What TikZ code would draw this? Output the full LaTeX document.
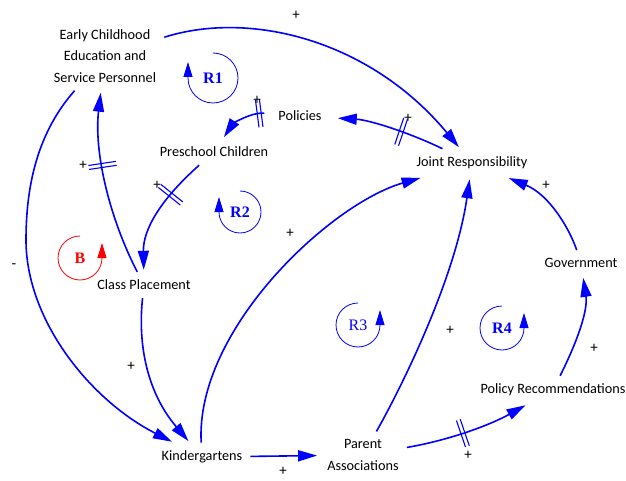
\documentclass[tikz,border=0pt]{standalone}
\usepackage{fontspec}
\setmainfont{Carlito}
\newfontfamily\loopfont{Liberation Serif}
\usetikzlibrary{arrows.meta,decorations.markings}
\begin{document}
\begin{tikzpicture}[x=1pt,y=1pt,
  var/.style={inner sep=8pt,align=center,font=\fontsize{14.25}{21.5}\selectfont},
  causal/.style={blue,line width=1.6pt,-{Triangle[length=19pt,width=11pt]},shorten >=2pt},
  delaymark/.style={postaction={decorate,decoration={markings,mark=at position #1 with {\draw[blue,line width=1.1pt,-,shorten >=0pt] (-2pt,-14pt) -- (-2pt,14pt) (2pt,-14pt) -- (2pt,14pt);}}}},
  loopmark/.style={#1,line width=0.8pt,-{Triangle[length=15pt,width=9pt]}},
  looplabel/.style={#1,font=\loopfont\fontsize{16}{16}\selectfont},
  sign/.style={font=\fontsize{15}{15}\selectfont}]
\useasboundingbox (0,0) rectangle (626,480);
\node [var] (ece) at (105,424) {Early Childhood\\Education and\\Service Personnel};
\node [var,inner xsep=14pt] (pol) at (300,364) {Policies};
\node [var] (psc) at (214,328) {Preschool Children};
\node [var] (jr) at (472,317) {Joint Responsibility};
\node [var] (cp) at (144,195) {Class Placement};
\node [var] (gov) at (581,217) {Government};
\node [var] (pr) at (553,90) {Policy Recommendations};
\node [var] (kg) at (202,23) {Kindergartens};
\node [var] (pa) at (363,25) {Parent\\Associations};
\draw [causal] (ece) .. controls (250,470) and (370,440) .. (jr);
\draw [causal] (ece) .. controls (40,350) and (26,300) .. (26,240) .. controls (26,160) and (90,80) .. (kg);
\draw [causal,delaymark=0.6] (cp) .. controls (108,265) and (94,330) .. (ece);
\draw [causal,delaymark=0.33] (psc) .. controls (160,280) and (143,250) .. (cp);
\draw [causal,delaymark=0.1] (pol) .. controls (250,368) and (232,355) .. (psc);
\draw [causal,delaymark=0.4] (jr) .. controls (410,347) and (370,360) .. (pol);
\draw [causal] (cp) .. controls (138,140) and (145,90) .. (kg);
\draw [causal] (kg) .. controls (195,150) and (330,276) .. (jr);
\draw [causal] (kg) -- (pa);
\draw [causal] (pa) .. controls (400,90) and (455,200) .. (jr);
\draw [causal,delaymark=0.45] (pa) .. controls (450,40) and (490,55) .. (pr);
\draw [causal] (pr) .. controls (578,140) and (588,170) .. (gov);
\draw [causal] (gov) .. controls (570,250) and (550,285) .. (jr);
\foreach \x/\y/\s [count=\i] in {296/465/+,14/214/-,83/315/+,157/295/+,257/380/+,408/362/+,131/114/+,290/247/+,283/9/+,450/150/+,468/25/+,594/132/+,546/295/+}
  \node [sign] (sign\i) at (\x,\y) {\s};
\draw [loopmark=blue] (213,427) arc[start angle=90,end angle=-180,radius=25pt] -- ++(0,16);
\node [looplabel=blue] (r1) at (213,402) {\textbf{R1}};
\draw [loopmark=blue] (240,289) arc[start angle=90,end angle=-180,radius=21pt] -- ++(0,15);
\node [looplabel=blue] (r2) at (240,268) {\textbf{R2}};
\draw [loopmark=red] (80,244) arc[start angle=90,end angle=360,radius=22pt] -- ++(0,15);
\node [looplabel=red] (b) at (80,222) {\textbf{B}};
\draw [loopmark=blue] (358,177) arc[start angle=90,end angle=360,radius=22pt] -- ++(0,15);
\node [looplabel=blue] (r3) at (358,155) {R3};
\draw [loopmark=blue] (502,174) arc[start angle=90,end angle=360,radius=22pt] -- ++(0,15);
\node [looplabel=blue] (r4) at (502,152) {\textbf{R4}};
\end{tikzpicture}
\end{document}
